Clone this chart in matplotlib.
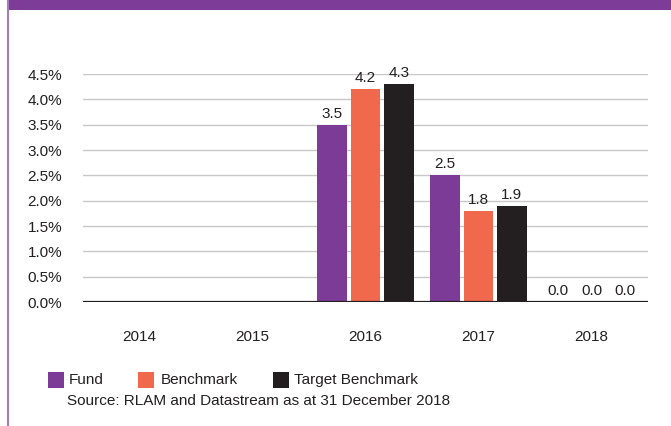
import matplotlib
matplotlib.use("Agg")
import matplotlib.pyplot as plt
import numpy as np
from matplotlib.patches import Rectangle
from matplotlib.lines import Line2D

plt.rcParams['font.family'] = ['Liberation Sans', 'DejaVu Sans']

years = ["2014", "2015", "2016", "2017", "2018"]
series_names = ["Fund", "Benchmark", "Target Benchmark"]
fund = [np.nan, np.nan, 3.5, 2.5, 0.0]
benchmark = [np.nan, np.nan, 4.2, 1.8, 0.0]
target = [np.nan, np.nan, 4.3, 1.9, 0.0]
yticks = [0.0, 0.5, 1.0, 1.5, 2.0, 2.5, 3.0, 3.5, 4.0, 4.5]
source_text = "Source: RLAM and Datastream as at 31 December 2018"

colors = ["#7b3b96", "#f0694c", "#231f20"]
text_color = "#231f20"
purple = "#7d3c98"
fs = 11

W, H = 671, 426
fig = plt.figure(figsize=(W / 100, H / 100), dpi=100)

# banner and left border
fig.add_artist(Rectangle((7.5 / W, 1 - 10 / H), 1, 10 / H, transform=fig.transFigure,
                         facecolor=purple, edgecolor='none'))
fig.add_artist(Line2D([8.3 / W, 8.3 / W], [0, 1], transform=fig.transFigure,
                      color="#a77bbb", lw=1.5))

ax = fig.add_axes([83 / W, 124 / H, (648 - 83) / W, (302 - 74) / H])
x = np.arange(len(years))
step = 0.295
width = 0.26
for i, (vals, c) in enumerate(zip([fund, benchmark, target], colors)):
    xs = x + (i - 1) * step
    ax.bar(xs, vals, width=width, color=c, zorder=3)
    for xi, v in zip(xs, vals):
        if not np.isnan(v):
            ax.text(xi, v + 0.08, f"{v:.1f}", ha='center', va='bottom',
                    fontsize=fs, color=text_color, zorder=4, clip_on=False)

ax.set_xlim(-0.5, len(years) - 0.5)
ax.set_ylim(0, 4.5)
ax.set_yticks(yticks)
ax.set_yticklabels([f"{t:.1f}%" for t in yticks])
ax.set_xticks(x)
ax.set_xticklabels(years)
ax.tick_params(axis='both', length=0, labelsize=fs, colors=text_color)
ax.tick_params(axis='y', pad=15)
ax.tick_params(axis='x', pad=20)
for s in ax.spines.values():
    s.set_visible(False)
ax.yaxis.grid(True, color="#c8c8c8", lw=1, zorder=0)
ax.set_axisbelow(True)
ax.axhline(0, color=text_color, lw=1.6, zorder=5)

# legend
leg_y = 380
items = [(47.5, 69), (138, 161), (273, 293.5)]
for (sx, tx), name, c in zip(items, series_names, colors):
    fig.add_artist(Rectangle((sx / W, 1 - 388 / H), 16 / W, 16 / H,
                             transform=fig.transFigure, facecolor=c, edgecolor='none'))
    fig.text(tx / W, 1 - leg_y / H, name, fontsize=fs, color=text_color,
             ha='left', va='center')
fig.text(67 / W, 1 - 401 / H, source_text, fontsize=fs, color=text_color,
         ha='left', va='center')

fig.savefig("out.png", dpi=100)
